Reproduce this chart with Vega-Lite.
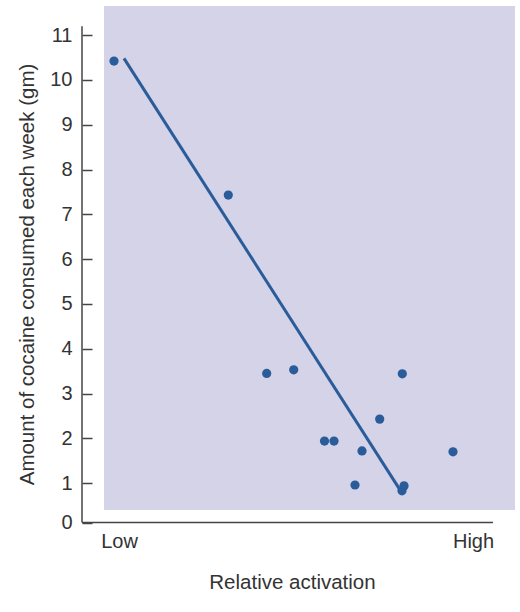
{
  "$schema": "https://vega.github.io/schema/vega-lite/v6.json",
  "autosize": "none",
  "padding": {"left": 82, "top": 6, "right": 5, "bottom": 84},
  "width": 433,
  "height": 522,
  "background": "white",
  "config": {
    "view": {"stroke": null},
    "font": "Liberation Sans",
    "axis": {"labelFont": "Liberation Sans", "titleFont": "Liberation Sans", "labelColor": "#333", "titleColor": "#333", "grid": false}
  },
  "datasets": {
    "points": [
      {"activation": 32, "cocaine": 10.42},
      {"activation": 146.3, "cocaine": 7.43},
      {"activation": 184.7, "cocaine": 3.45},
      {"activation": 211.7, "cocaine": 3.53},
      {"activation": 320.3, "cocaine": 3.44},
      {"activation": 297.7, "cocaine": 2.43},
      {"activation": 242.5, "cocaine": 1.94},
      {"activation": 252, "cocaine": 1.94},
      {"activation": 280, "cocaine": 1.72},
      {"activation": 273, "cocaine": 0.96},
      {"activation": 322, "cocaine": 0.94},
      {"activation": 320, "cocaine": 0.83},
      {"activation": 371, "cocaine": 1.7}
    ],
    "fit": [
      {"activation": 42, "cocaine": 10.48},
      {"activation": 318, "cocaine": 0.85}
    ]
  },
  "layer": [
    {
      "data": {"values": [{}]},
      "mark": {"type": "rect", "color": "#d4d3e8"},
      "encoding": {
        "x": {"datum": 22, "type": "quantitative"},
        "x2": {"datum": 433},
        "y": {"datum": 0.4, "type": "quantitative"},
        "y2": {"datum": 11.65}
      }
    },
    {
      "data": {"values": [{}]},
      "mark": {"type": "rule", "color": "#444", "strokeWidth": 1.5},
      "encoding": {
        "x": {"datum": 0, "type": "quantitative"},
        "y": {"datum": 0.12, "type": "quantitative"},
        "y2": {"datum": 11.2}
      }
    },
    {
      "data": {"values": [{}]},
      "mark": {"type": "rule", "color": "#444", "strokeWidth": 1.5},
      "encoding": {
        "y": {"datum": 0.12, "type": "quantitative"},
        "x": {"datum": 0, "type": "quantitative"},
        "x2": {"datum": 411}
      }
    },
    {
      "data": {"name": "fit"},
      "mark": {"type": "line", "color": "#2b5c9a", "strokeWidth": 3},
      "encoding": {
        "x": {"field": "activation", "type": "quantitative"},
        "y": {"field": "cocaine", "type": "quantitative"}
      }
    },
    {
      "data": {"name": "points"},
      "mark": {"type": "circle", "color": "#2b5c9a", "size": 85, "opacity": 1},
      "encoding": {
        "x": {
          "field": "activation",
          "type": "quantitative",
          "scale": {"domain": [0, 433], "nice": false, "zero": false},
          "axis": {
            "title": "Relative activation",
            "values": [37, 391],
            "labelExpr": "datum.value < 200 ? 'Low' : 'High'",
            "domain": false,
            "ticks": false,
            "labelFontSize": 20,
            "labelPadding": 3,
            "titleFontSize": 20.5,
            "titleFontWeight": "normal",
            "titleX": 210,
            "titleY": 60,
            "titleBaseline": "alphabetic"
          }
        },
        "y": {
          "field": "cocaine",
          "type": "quantitative",
          "scale": {"domain": [0, 11.65], "nice": false, "zero": false},
          "axis": {
            "title": "Amount of cocaine consumed each week (gm)",
            "values": [0.12, 1, 2, 3, 4, 5, 6, 7, 8, 9, 10, 11],
            "labelExpr": "datum.value < 0.5 ? '0' : datum.label",
            "domain": false,
            "tickSize": -10,
            "tickColor": "#444",
            "tickWidth": 1.5,
            "labelFontSize": 20,
            "labelPadding": 20,
            "titleFontSize": 20.5,
            "titleFontWeight": "normal",
            "titleX": -55,
            "titleY": 268,
            "titleBaseline": "middle"
          }
        }
      }
    }
  ]
}
